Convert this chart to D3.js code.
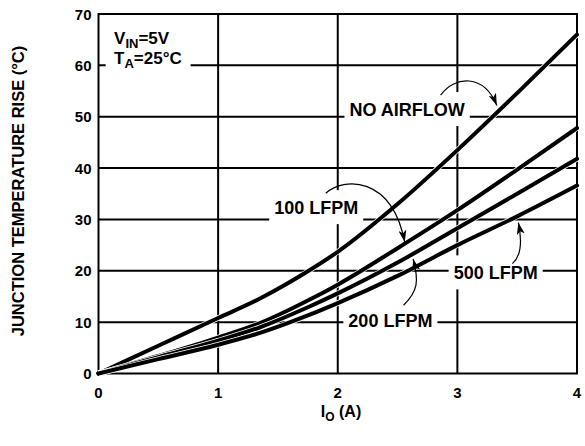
<!DOCTYPE html>
<html>
<head>
<meta charset="utf-8">
<script src="https://cdn.jsdelivr.net/npm/d3@7"></script>
<style>
  html, body { margin: 0; padding: 0; background: #fff; }
  svg { display: block; }
  text { font-family: "Liberation Sans", Arial, Helvetica, sans-serif; font-weight: bold; fill: #000; }
</style>
</head>
<body>
<svg id="chart" width="585" height="446"></svg>
<script>
// ---- data ----
const currentA = [0, 0.5, 1, 1.35, 1.75, 2, 2.5, 3, 3.5, 4];
const noAirflow = [0, 5.4, 10.8, 14.6, 19.9, 23.7, 33.0, 43.5, 54.6, 66];
const lfpm100  = [0, 3.4, 7.0, 9.8, 14.2, 17.3, 24.4, 31.8, 39.7, 47.8];
const lfpm200  = [0, 3.2, 6.4, 9.0, 12.9, 15.6, 21.6, 28.3, 35.0, 41.8];
const lfpm500  = [0, 2.8, 5.6, 7.9, 11.3, 13.7, 19.0, 25.0, 30.6, 36.6];
const seriesNames = ["NO AIRFLOW", "100 LFPM", "200 LFPM", "500 LFPM"];
const xTicks = [0, 1, 2, 3, 4];
const yTicks = [0, 10, 20, 30, 40, 50, 60, 70];

// annotation labels (data units) and their arrows (start, ctrl1, ctrl2, tip)
const labelText = ["NO AIRFLOW", "100 LFPM", "200 LFPM", "500 LFPM"];
const labelX = [2.58, 1.82, 2.44, 3.32];
const labelY = [51.3, 32.2, 10.3, 19.5];
const arrowPts = [
  [[2.86, 54.2], [2.98, 58.0], [3.22, 58.4], [3.33, 52.2]],
  [[1.90, 35.1], [2.05, 38.3], [2.45, 38.5], [2.56, 25.6]],
  [[2.55, 13.3], [2.67, 16.0], [2.68, 18.0], [2.63, 22.3]],
  [[3.46, 21.4], [3.54, 23.0], [3.54, 26.0], [3.51, 29.4]]
];

// ---- layout ----
const svg = d3.select("#chart");
const x = d3.scaleLinear().domain([0, 4]).range([98.5, 577]);
const y = d3.scaleLinear().domain([0, 70]).range([373.5, 14]);

// gridlines
const grid = svg.append("g");
grid.selectAll("line.v").data(xTicks.slice(1, -1)).join("line")
  .attr("x1", d => x(d)).attr("x2", d => x(d))
  .attr("y1", y(0)).attr("y2", y(70))
  .attr("stroke", "#000").attr("stroke-width", 2);
grid.selectAll("line.h").data(yTicks.slice(1, -1)).join("line")
  .attr("x1", x(0)).attr("x2", x(4))
  .attr("y1", d => y(d)).attr("y2", d => y(d))
  .attr("stroke", "#000").attr("stroke-width", 2);

// white label backgrounds (break gridlines)
const fontAnn = 18;
const labG = svg.append("g");
labelText.forEach((t, i) => {
  const tx = labG.append("text")
    .attr("x", x(labelX[i])).attr("y", y(labelY[i]))
    .attr("text-anchor", "middle").attr("dominant-baseline", "central")
    .attr("font-size", fontAnn).text(t);
  const bb = tx.node().getBBox();
  labG.insert("rect", "text")
    .attr("x", bb.x - 5).attr("y", bb.y - 8)
    .attr("width", bb.width + 10).attr("height", bb.height + 14)
    .attr("fill", "#fff");
});

// VIN / TA box
const condG = svg.append("g");
condG.append("rect").attr("x", x(0.06)).attr("y", y(68.5))
  .attr("width", x(0.77) - x(0.06)).attr("height", y(58.8) - y(68.5)).attr("fill", "#fff");
const t1 = condG.append("text").attr("x", x(0.13)).attr("y", y(64.2)).attr("font-size", 17);
t1.append("tspan").text("V");
t1.append("tspan").attr("font-size", 13).attr("dy", 4).text("IN");
t1.append("tspan").attr("dy", -4).text("=5V");
const t2 = condG.append("text").attr("x", x(0.13)).attr("y", y(60.3)).attr("font-size", 17);
t2.append("tspan").text("T");
t2.append("tspan").attr("font-size", 13).attr("dy", 4).text("A");
t2.append("tspan").attr("dy", -4).text("=25°C");

// frame
svg.append("rect").attr("x", x(0)).attr("y", y(70))
  .attr("width", x(4) - x(0)).attr("height", y(0) - y(70))
  .attr("fill", "none").attr("stroke", "#000").attr("stroke-width", 2);

// curves
const allSeries = [noAirflow, lfpm100, lfpm200, lfpm500];
const line = d3.line().x(d => x(d[0])).y(d => y(d[1])).curve(d3.curveMonotoneX);
const curveG = svg.append("g");
allSeries.forEach((s, i) => {
  const pts = currentA.map((c, j) => [c, s[j]]);
  curveG.append("path").attr("d", line(pts)).attr("fill", "none")
    .attr("stroke", "#fff").attr("stroke-width", 5.5);
  curveG.append("path").attr("d", line(pts)).attr("fill", "none")
    .attr("stroke", "#000").attr("stroke-width", 4).attr("stroke-linecap", "round")
    .attr("data-name", seriesNames[i]);
});

// arrows
svg.append("defs").append("marker").attr("id", "ah")
  .attr("viewBox", "0 0 12 8").attr("refX", 12).attr("refY", 4)
  .attr("markerWidth", 12).attr("markerHeight", 8)
  .attr("markerUnits", "userSpaceOnUse").attr("orient", "auto")
  .append("path").attr("d", "M0,0 L12,4 L0,8 L3,4 Z").attr("fill", "#000");
const arrowG = svg.append("g");
arrowPts.forEach(p => {
  const q = p.map(d => [x(d[0]), y(d[1])]);
  arrowG.append("path")
    .attr("d", `M${q[0][0]},${q[0][1]} C${q[1][0]},${q[1][1]} ${q[2][0]},${q[2][1]} ${q[3][0]},${q[3][1]}`)
    .attr("fill", "none").attr("stroke", "#000").attr("stroke-width", 1.2)
    .attr("marker-end", "url(#ah)");
});

// tick labels
const fontTick = 15;
svg.append("g").selectAll("text").data(xTicks).join("text")
  .attr("x", d => x(d)).attr("y", y(0) + 19)
  .attr("text-anchor", "middle").attr("dominant-baseline", "central")
  .attr("font-size", fontTick).text(d => d);
svg.append("g").selectAll("text").data(yTicks).join("text")
  .attr("x", x(0) - 7).attr("y", d => y(d))
  .attr("text-anchor", "end").attr("dominant-baseline", "central")
  .attr("font-size", fontTick).text(d => d);

// axis titles
const xt = svg.append("text").attr("x", 341).attr("y", 417)
  .attr("text-anchor", "middle").attr("font-size", 16);
xt.append("tspan").text("I");
xt.append("tspan").attr("font-size", 12).attr("dy", 4).text("O");
xt.append("tspan").attr("dy", -4).text(" (A)");

svg.append("text").attr("transform", "translate(18,191) rotate(-90)")
  .attr("text-anchor", "middle").attr("dominant-baseline", "central")
  .attr("font-size", 16.5).text("JUNCTION TEMPERATURE RISE (°C)");
</script>
</body>
</html>
